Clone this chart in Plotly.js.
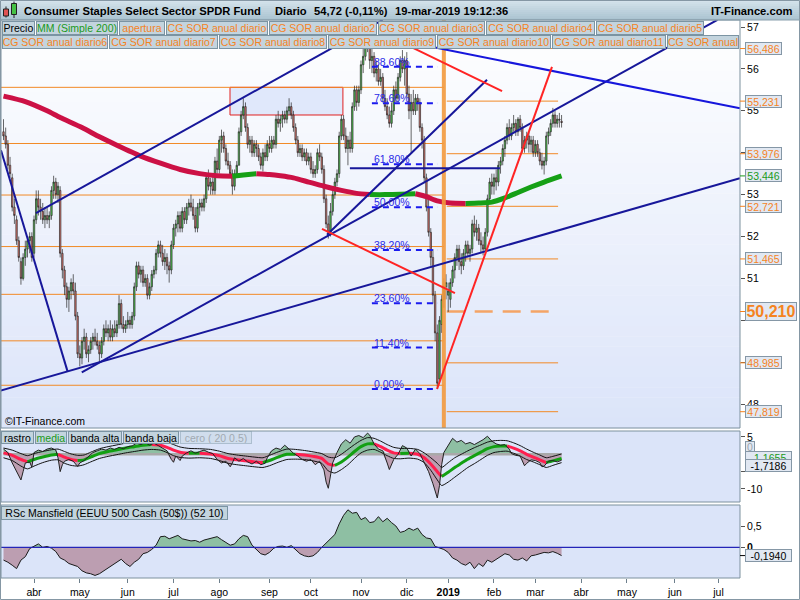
<!DOCTYPE html>
<html><head><meta charset="utf-8">
<script src="https://cdn.plot.ly/plotly-3.0.1.min.js"></script>
<style>html,body{margin:0;padding:0;background:#fff;}#chart{width:800px;height:600px;}</style>
</head><body><div id="chart"></div>
<script>
// ---------------- DATA ----------------
const holidays = ['2018-03-30','2018-05-28','2018-07-04','2018-09-03','2018-11-22','2018-12-05','2018-12-25',
  '2019-01-01','2019-01-21','2019-02-18','2019-04-19','2019-05-27','2019-07-04'];
const firstSession = '2018-03-12';
const lastAxisDay = '2019-07-31';
const monthLabels = ['abr','may','jun','jul','ago','sep','oct','nov','dic','<b>2019</b>','feb','mar','abr','may','jun','jul'];
const priceTicks = [48,49,50,51,52,53,54,55,56,57];
const priceTickText = ['48','','','51','52','53','','55','56','57'];

const priceOpen = [
54.5,54.4,54.2,53.7,53.4,52.7,52.4,51.9,51.4,51.0, 51.5,51.7,51.9,52.0,51.6,52.4,52.9,52.7,52.6,52.4,
52.5,52.4,52.5,53.1,53.3,53.0,53.1,51.6,51.2,50.8, 50.5,50.7,50.9,50.7,50.1,49.2,49.1,49.5,49.6,49.2,
49.3,49.5,49.6,49.5,49.4,49.2,49.5,49.8,49.7,49.8, 49.6,49.8,49.7,49.9,50.4,49.9,49.8,49.9,50.0,49.9,
50.1,50.8,51.3,51.1,51.2,50.9,51.0,50.6,50.8,51.1, 51.2,51.6,51.8,51.6,51.4,51.5,51.3,51.2,51.8,52.2,
52.3,52.5,52.2,52.6,52.4,52.7,52.8,52.7,52.5,52.2, 52.7,52.8,52.7,52.9,53.4,53.2,53.3,53.1,53.8,53.6,
54.3,54.4,54.1,53.8,53.7,53.5,53.2,53.5,53.7,54.5, 54.9,55.1,54.6,54.2,54.3,54.0,54.2,54.1,53.9,53.7,
54.0,53.9,54.2,54.1,54.3,54.2,54.8,54.7,54.8,54.9, 54.8,55.0,55.1,54.9,54.6,54.3,54.0,54.1,53.9,54.0,
53.8,53.9,53.6,53.5,53.6,54.0,53.9,53.6,52.9,52.3, 52.1,52.6,53.0,53.3,53.5,54.4,54.8,54.4,54.1,54.3,
54.1,55.1,55.5,55.2,55.5,56.1,56.3,56.7,56.5,56.2, 56.3,55.9,56.0,55.7,55.8,55.3,55.1,54.9,54.7,55.0,
55.5,55.3,55.8,56.2,56.0,56.2,55.4,55.0,55.2,55.0, 55.3,55.2,54.6,54.3,53.4,52.7,52.1,51.5,50.6,49.7,
48.6,49.9,50.5,50.8,50.6,50.5,50.9,51.2,51.5,51.7, 51.4,51.3,51.6,51.8,51.6,51.7,52.3,52.1,52.2,51.9,
51.8,51.7,52.1,52.9,53.3,53.2,53.4,53.3,53.7,53.8, 54.1,54.3,54.6,54.4,54.6,54.7,54.5,54.8,54.6,54.1,
54.3,54.4,54.2,54.3,54.0,54.2,54.0,53.8,53.7,53.8, 54.4,54.5,54.7,54.9,54.7,54.8,54.75];
const priceHigh = [
54.8,54.6,54.3,53.9,53.5,52.9,52.5,52.0,51.5,51.6, 51.9,52.0,52.1,52.1,52.5,53.1,53.1,52.9,52.8,52.7,
52.7,52.6,53.2,53.45,53.4,53.3,53.2,51.7,51.3,50.9, 50.8,51.0,51.1,50.9,50.2,49.4,49.6,49.8,49.7,49.4,
49.6,49.7,49.8,49.7,49.5,49.6,49.9,50.0,49.9,50.0, 49.9,50.0,50.0,50.6,50.5,50.1,50.0,50.2,50.1,50.2,
50.9,51.4,51.4,51.3,51.3,51.1,51.1,50.9,51.2,51.3, 51.7,51.9,51.9,51.8,51.7,51.6,51.4,51.9,52.3,52.4,
52.6,52.6,52.7,52.7,52.8,52.9,53.0,52.9,52.7,52.8, 52.9,52.9,53.0,53.5,53.6,53.4,53.5,53.9,54.1,54.4,
54.55,54.5,54.2,54.0,53.8,53.6,53.6,53.8,54.6,55.0, 55.3,55.2,54.7,54.4,54.4,54.3,54.3,54.2,54.0,54.1,
54.2,54.3,54.4,54.4,54.4,54.9,55.0,54.9,55.0,55.0, 55.1,55.3,55.2,55.0,54.7,54.4,54.2,54.2,54.1,54.1,
54.0,54.0,53.8,53.7,54.1,54.2,54.0,53.7,53.0,52.5, 52.8,53.1,53.4,53.6,54.5,54.9,54.9,54.6,54.4,54.5,
55.2,55.6,55.6,55.6,56.2,56.5,56.9,57.0,56.7,56.5, 56.4,56.2,56.1,56.0,55.9,55.5,55.3,55.1,55.2,55.6,
55.7,55.9,56.3,56.45,56.3,56.4,55.6,55.4,55.5,55.4, 55.4,55.3,54.7,54.4,53.5,52.9,52.2,51.7,50.7,49.9,
50.1,50.6,51.0,51.1,50.9,51.0,51.3,51.6,51.8,51.8, 51.6,51.7,51.9,51.9,51.8,52.4,52.5,52.4,52.3,52.1,
52.0,52.2,53.0,53.4,53.5,53.5,53.6,53.8,53.9,54.2, 54.4,54.7,54.8,54.7,54.9,54.8,54.85,54.9,54.7,54.4,
54.5,54.5,54.4,54.4,54.3,54.3,54.1,54.0,53.9,54.5, 54.6,54.8,55.07,55.0,54.9,54.95,54.9];
const priceLow = [
54.3,54.1,53.6,53.4,52.6,52.3,51.8,51.4,50.85,50.95, 51.3,51.5,51.6,51.4,51.5,52.3,52.5,52.4,52.3,52.2,
52.3,52.2,52.4,52.9,52.9,52.8,51.5,51.0,50.6,50.3, 50.2,50.5,50.6,50.0,49.1,48.9,48.95,49.3,49.1,49.0,
49.2,49.3,49.4,49.3,49.0,49.1,49.4,49.6,49.5,49.5, 49.5,49.6,49.6,49.8,49.8,49.7,49.7,49.8,49.8,49.8,
50.0,50.7,51.0,50.9,50.8,50.8,50.5,50.5,50.7,51.0, 51.1,51.5,51.5,51.3,51.2,51.1,50.9,51.1,51.7,52.0,
52.1,52.1,52.1,52.3,52.3,52.5,52.6,52.4,52.1,52.1, 52.5,52.6,52.6,52.8,53.1,53.0,53.0,53.0,53.5,53.5,
54.0,54.0,53.7,53.6,53.4,53.0,53.1,53.4,53.7,54.4, 54.8,54.5,54.1,54.0,53.9,53.9,53.9,53.8,53.6,53.55,
53.8,53.8,54.0,54.0,54.1,54.1,54.6,54.5,54.6,54.7, 54.7,54.9,54.8,54.5,54.2,53.9,53.9,53.8,53.8,53.7,
53.7,53.5,53.4,53.4,53.5,53.8,53.5,52.8,52.2,51.95, 52.0,52.5,52.9,53.2,53.4,54.3,54.3,54.0,53.7,54.0,
54.0,55.0,55.0,55.1,55.4,55.9,56.2,56.4,56.0,55.9, 55.8,55.7,55.6,55.6,55.2,55.0,54.8,54.6,54.6,54.9,
55.2,55.2,55.7,55.9,55.6,55.3,54.8,54.0,54.9,54.9, 55.0,54.5,54.1,53.3,52.6,52.0,51.3,50.4,49.5,48.36,
48.5,49.7,50.3,50.5,50.2,50.3,50.8,51.0,51.3,51.2, 51.1,51.2,51.4,51.5,51.4,51.6,52.0,51.9,51.8,51.6,
51.55,51.6,52.0,52.8,53.0,53.0,53.1,53.2,53.5,53.7, 53.9,54.2,54.3,54.3,54.5,54.4,54.4,54.5,54.0,54.0,
54.1,54.0,54.0,53.9,53.9,53.9,53.7,53.6,53.48,53.7, 54.2,54.4,54.6,54.6,54.6,54.6,54.6];
const priceClose = [
54.4,54.2,53.7,53.5,52.7,52.5,51.9,51.5,51.0,51.5, 51.7,51.9,52.0,51.5,52.4,52.9,52.7,52.6,52.4,52.5,
52.4,52.5,53.1,53.3,53.0,53.2,51.6,51.2,50.8,50.5, 50.7,50.9,50.7,50.1,49.2,49.1,49.5,49.6,49.2,49.3,
49.5,49.6,49.5,49.4,49.2,49.5,49.8,49.7,49.8,49.6, 49.8,49.7,49.9,50.4,49.9,49.8,49.9,50.0,49.9,50.1,
50.8,51.3,51.1,51.2,50.9,51.0,50.6,50.8,51.1,51.2, 51.6,51.8,51.6,51.4,51.5,51.3,51.2,51.8,52.2,52.3,
52.5,52.2,52.6,52.4,52.7,52.8,52.7,52.5,52.2,52.7, 52.8,52.7,52.9,53.4,53.2,53.3,53.1,53.8,53.6,54.3,
54.4,54.1,53.8,53.7,53.5,53.2,53.5,53.7,54.5,54.9, 55.1,54.6,54.2,54.3,54.0,54.2,54.1,53.9,53.7,54.0,
53.9,54.2,54.1,54.3,54.2,54.8,54.7,54.8,54.9,54.8, 55.0,55.1,54.9,54.6,54.3,54.0,54.1,53.9,54.0,53.8,
53.9,53.6,53.5,53.6,54.0,53.9,53.6,52.9,52.3,52.1, 52.6,53.0,53.3,53.5,54.4,54.8,54.4,54.1,54.3,54.1,
55.1,55.5,55.2,55.5,56.1,56.3,56.7,56.5,56.2,56.3, 55.9,56.0,55.7,55.8,55.3,55.1,54.9,54.7,55.0,55.5,
55.3,55.8,56.2,56.0,56.2,55.4,55.0,55.2,55.0,55.3, 55.2,54.6,54.3,53.4,52.7,52.1,51.5,50.6,49.7,48.5,
50.0,50.5,50.8,50.9,50.7,50.9,51.2,51.5,51.7,51.4, 51.3,51.6,51.8,51.6,51.7,52.3,52.1,52.2,51.9,51.8,
51.7,52.1,52.9,53.3,53.2,53.4,53.3,53.7,53.8,54.1, 54.3,54.6,54.4,54.6,54.7,54.5,54.8,54.6,54.1,54.3,
54.4,54.2,54.3,54.0,54.2,54.0,53.8,53.7,53.8,54.4, 54.5,54.7,54.9,54.7,54.8,54.78,54.72];

// 200-session simple moving average (session number, value)
const smaSession = [0,10,20,26,36,44,52,63,72,81,90,98,105,110,116,122,127,133,140,147,155,162,168,175,182,189,194,199,205,212,218,224,230,236,242,248,256];
const sma200 = [55.35,55.22,55.0,54.84,54.6,54.38,54.18,53.92,53.75,53.6,53.5,53.45,53.44,53.47,53.5,53.48,53.45,53.4,53.3,53.2,53.1,53.03,53.0,53.0,53.01,53.02,52.95,52.85,52.8,52.79,52.8,52.82,52.92,53.05,53.18,53.3,53.446];

// CG SOR annual levels
const levels2018 = [55.56,54.22,52.99,51.76,50.62,49.51,48.45];
const levels2019 = [56.486,55.231,53.976,52.721,51.465,48.985,47.819];
const level2019Key = 50.210;

// Fibonacci retracement
const fibLow = 48.36, fibHigh = 57.04;
const fibPct = [0,11.4,23.6,38.2,50,61.8,78.6,88.6];

// drawn trend lines [session0, price0, session1, price1]
const navyLines = [[-1.15,54.06,29.45,48.77],[-1.6,48.32,337.8,53.39],[35.9,48.76,327.5,57.17],
  [14.9,52.56,173.9,57.17],[148.4,52.04,221.8,55.74],[158.9,53.63,227.7,53.63]];
const blueLines = [[191.1,56.58,337.8,55.06]];
const redLines = [[146.1,52.18,207.1,50.65],[198.9,48.36,251.6,56.05],[181.9,56.65,228.7,55.47]];
const zoneBox = [103.9,155.7,54.90,55.56];
const yearOpenSession = 202;

// "rastro" oscillator panel
const rastroSession = [0,2,4,6,8,9,10,12,13,14, 16,18,20,22,24,25,26,27,28,30, 32,34,35,37,39,41,43,45,47,49,
 51,53,55,57,59,61,63,65,67,69, 71,73,75,77,78,79,81,82,84,86, 88,90,92,94,96,98,100,102,104,105,
 106,108,110,112,114,116,118,120,121,123, 125,127,129,131,133,135,137,139,141,143,
 145,147,148,149,150,151,153,155,157,159, 161,163,165,167,168,170,172,174,176,177,
 179,181,183,185,187,189,191,193,195,197, 199,200,201,202,204,206,208,210,212,214,
 216,218,220,222,224,226,228,230,232,233, 235,237,238,239,240,242,244,246,247,248, 250,252,254,256];
const rastro = [1.5,0.5,-2.5,-5,-7.4,-5,-2.5,-2.2,-3.7,0.5, 1.2,0.8,1.5,1.8,1.2,-1,-5,-3,-2,-1.5,
 -2,-3.5,-2.5,-1.8,-0.5,0.5,1.0,1.5,1.2,1.8, 1.4,2.0,1.6,2.2,2.4,3.2,2.8,3.4,2.6,3.2,
 2.5,1.8,1.0,-1.5,-2.3,-0.5,-1.8,-0.5,0.4,1.0, 0.3,0.8,1.2,0.6,0.2,-1.5,-2.5,-2.0,-3.6,-2.5,
 -1.0,-2.0,-1.2,-2.2,-2.8,-2.0,-3.0,-2.6,-1.0,1.0, 1.8,1.4,2.6,1.5,0.3,-0.5,-1.5,-2.0,-1.5,-3.0,
 -2.0,-4.5,-8.0,-9.8,-6,-2.5,0.5,3.0,4.2,3.2, 5.0,5.4,4.8,6.1,5.5,3.0,1.5,1.0,-2.5,-4.4,
 -1.5,0.0,2.5,1.8,-0.5,1.5,0.2,-2.5,-5,-8.5, -12.6,-9,-3,0.5,2.5,4.6,3.5,4.0,3.0,3.4,
 2.8,3.4,4.2,5.2,3.8,3.0,2.6,2.8,1.5,0.2, -0.3,-0.5,-2.0,-3.3,-2.6,-1.6,-1.8,-2.4,-3.6,-3.4, -2.0,-1.8,-2.2,-1.72];
const mediaSession = [0,4,8,11,14,18,22,25,28,31, 34,37,40,44,48,52,56,60,64,68, 72,75,78,81,85,90,95,99,103,107,
 111,115,119,122,126,130,134,138,142,146, 149,152,155,158,161,164,167,170,173,176,
 179,182,186,190,193,196,199,201,204,207, 210,213,216,219,222,225,228,231,234,237, 240,243,246,249,252,256];
const media = [0.4,-0.3,-1.5,-2.2,-1.5,-0.8,-0.2,0.0,-0.8,-1.5, -1.8,-1.6,-0.8,0.2,0.8,1.3,1.8,2.2,2.6,2.8,
 2.6,2.0,1.2,0.6,0.3,0.3,0.1,-0.4,-1.2,-1.6, -1.9,-2.2,-2.4,-1.8,-0.8,0.0,0.0,-0.2,-0.6,-1.2,
 -2.8,-3.2,-2.2,-0.8,0.8,2.2,3.0,3.0,2.2,1.2, 0.4,0.2,0.3,0.0,-1.0,-2.8,-5.0,-6.4,-5.2,-3.8,
 -2.6,-1.4,-0.4,0.6,1.6,2.2,2.4,2.4,1.8,1.0, 0.0,-0.8,-1.6,-2.4,-1.9,-1.17];
const bandHigh = [1.8,1.2,0.2,-0.4,0.2,0.8,1.3,1.5,0.8,0.1, -0.3,-0.2,0.6,1.6,2.2,2.7,3.2,3.6,4.0,4.2,
 4.0,3.5,2.8,2.1,1.7,1.6,1.4,0.9,0.2,-0.2, -0.5,-0.8,-1.0,-0.3,0.7,1.5,1.4,1.1,0.7,0.2,
 -0.8,-1.0,0.0,1.4,2.8,4.0,4.8,4.6,3.8,2.8, 2.0,1.7,1.7,1.4,0.4,-1.0,-2.6,-3.8,-2.4,-1.0,
 0.0,1.0,1.9,2.7,3.5,3.9,4.0,3.9,3.3,2.5, 1.5,0.6,-0.2,-1.0,-0.6,0.1];
const bandLow = [-1.0,-1.8,-3.4,-4.2,-3.4,-2.4,-1.7,-1.6,-2.6,-3.2, -3.4,-3.0,-2.2,-1.2,-0.6,-0.1,0.4,0.8,1.2,1.4,
 1.2,0.5,-0.4,-0.9,-1.1,-1.0,-1.2,-1.8,-2.6,-3.0, -3.3,-3.6,-3.8,-3.3,-2.3,-1.5,-1.4,-1.5,-1.9,-2.6,
 -4.8,-5.4,-4.4,-3.0,-1.2,0.4,1.2,1.4,0.6,-0.4, -1.2,-1.3,-1.1,-1.4,-2.4,-4.6,-7.4,-9.0,-8.0,-6.6,
 -5.2,-3.8,-2.7,-1.5,-0.3,0.5,0.8,0.9,0.3,-0.5, -1.5,-2.2,-3.0,-3.8,-3.2,-2.4];
const mediaLast = -1.1655, rastroLast = -1.7186;

// RSc Mansfield panel
const mansSession = [0,2,4,6,8,10,12,14,16,18, 20,22,24,26,28,30,32,34,36,38, 40,42,44,46,48,50,52,54,56,58,
 60,62,64,66,68,70,72,74,76,78, 80,82,84,86,88,90,92,94,96,98, 100,102,104,106,108,110,112,114,116,118,
 120,122,124,126,128,130,132,134,136,138, 140,142,144,146,147,148,150,152,154,156,
 158,160,162,164,166,168,170,172,174,176, 178,180,182,184,186,188,190,192,194,196,
 198,200,202,204,206,208,210,212,214,216, 218,220,222,224,226,228,230,232,234,236, 238,240,242,244,246,248,250,252,254,256];
const mansfield = [-0.3,-0.35,-0.42,-0.5,-0.3,-0.22,-0.03,0.03,0.08,0.0, 0.02,-0.02,-0.1,-0.25,-0.3,-0.38,-0.42,-0.45,-0.55,-0.6,
 -0.62,-0.66,-0.62,-0.55,-0.5,-0.42,-0.35,-0.28,-0.38,-0.45, -0.35,-0.28,-0.15,-0.12,-0.05,0.05,0.25,0.26,0.2,0.24,
 0.28,0.2,0.18,0.15,0.16,0.12,0.17,0.2,0.23,0.25, 0.18,0.12,0.05,0.08,0.2,0.28,0.25,0.05,-0.05,-0.15,
 -0.18,-0.12,-0.02,0.02,0.03,0.0,0.04,-0.05,-0.15,-0.2, -0.22,-0.2,-0.12,0.0,0.05,0.1,0.18,0.3,0.55,0.75,
 0.88,0.8,0.82,0.65,0.7,0.58,0.6,0.72,0.6,0.68, 0.58,0.5,0.35,0.38,0.45,0.4,0.45,0.3,0.22,0.2,
 0.02,-0.02,-0.05,-0.12,-0.25,-0.3,-0.38,-0.42,-0.35,-0.5, -0.38,-0.45,-0.3,-0.35,-0.28,-0.2,-0.15,-0.18,-0.28,-0.3,
 -0.25,-0.32,-0.2,-0.18,-0.15,-0.12,-0.13,-0.1,-0.14,-0.194];

// ---------------- BUILD ----------------
function buildSessions(){
  const out=[], hol=new Set(holidays);
  let t=Date.parse(firstSession+'T00:00:00Z'); const end=Date.parse(lastAxisDay+'T00:00:00Z');
  while(t<=end){ const d=new Date(t), wd=d.getUTCDay(), s=d.toISOString().slice(0,10);
    if(wd!==0 && wd!==6 && !hol.has(s)) out.push(s); t+=86400000; }
  return out;
}
const sessions = buildSessions();
const monthStarts = [];
for(let i=1;i<sessions.length;i++){ if(sessions[i].slice(0,7)!==sessions[i-1].slice(0,7)) monthStarts.push(i); }
const candleX = priceClose.map((_,i)=>i);
const lastSession = priceClose.length-1;
const first2019 = sessions.findIndex(s=>s>='2019-01-01');

const FONT='Liberation Sans, Arial, sans-serif';
const W=800,H=600,ML=1,MR=60,MT=20,MB=22, PW=W-ML-MR, PH=H-MT-MB;
const px2x = px => (px-ML)/PW;
const py2y = py => (H-MB-py)/PH;
const XR=[-1.147, 337.85];
const ORANGE='#f5831f', GREEN='#1a9a1a';
const comma = (v,d) => v.toFixed(d).replace('.',',');

function colorRuns(xs, ys, up, down, width, yaxis){
  const runs=[]; let cur=null;
  for(let i=0;i<xs.length-1;i++){
    const c = ys[i+1]>=ys[i] ? up : down;
    if(!cur || cur.c!==c){ cur={c, x:[xs[i]], y:[ys[i]]}; runs.push(cur); }
    cur.x.push(xs[i+1]); cur.y.push(ys[i+1]);
  }
  return runs.map(r=>({type:'scatter',mode:'lines',x:r.x,y:r.y,yaxis,xaxis:'x',
    line:{color:r.c,width,shape:'spline',smoothing:0.6},hoverinfo:'skip',showlegend:false}));
}
function fills(xs, ys, yaxis, posColor, negColor){
  return [
    {type:'scatter',mode:'lines',x:xs,y:ys.map(v=>Math.max(v,0)),yaxis,fill:'tozeroy',fillcolor:posColor,line:{width:0},hoverinfo:'skip',showlegend:false},
    {type:'scatter',mode:'lines',x:xs,y:ys.map(v=>Math.min(v,0)),yaxis,fill:'tozeroy',fillcolor:negColor,line:{width:0},hoverinfo:'skip',showlegend:false}
  ];
}

const traces=[];
traces.push({type:'candlestick',x:candleX,open:priceOpen,high:priceHigh,low:priceLow,close:priceClose,
  xaxis:'x',yaxis:'y',whiskerwidth:0,
  increasing:{line:{color:'#262626',width:0.7},fillcolor:'#52d052'},
  decreasing:{line:{color:'#262626',width:0.7},fillcolor:'#e57a72'},
  hoverinfo:'skip',showlegend:false});
traces.push(...colorRuns(smaSession, sma200, '#16a016', '#cc1145', 5, 'y'));

// panel 2
traces.push(...fills(rastroSession, rastro, 'y2', 'rgba(128,184,148,0.85)', 'rgba(184,150,168,0.9)'));
traces.push({type:'scatter',mode:'lines',x:[0,lastSession],y:[0,0],yaxis:'y2',line:{color:'#a9a9a9',width:2.5},hoverinfo:'skip',showlegend:false});
traces.push({type:'scatter',mode:'lines',x:mediaSession,y:bandHigh,yaxis:'y2',line:{color:'#111',width:1,shape:'spline',smoothing:0.6},hoverinfo:'skip',showlegend:false});
traces.push({type:'scatter',mode:'lines',x:mediaSession,y:bandLow,yaxis:'y2',line:{color:'#111',width:1,shape:'spline',smoothing:0.6},hoverinfo:'skip',showlegend:false});
traces.push(...colorRuns(mediaSession, media, '#12a012', '#ff1f4f', 3, 'y2'));
traces.push({type:'scatter',mode:'lines',x:rastroSession,y:rastro,yaxis:'y2',line:{color:'#222',width:1},hoverinfo:'skip',showlegend:false});

// panel 3
traces.push(...fills(mansSession, mansfield, 'y3', 'rgba(128,184,148,0.85)', 'rgba(184,150,168,0.9)'));
traces.push({type:'scatter',mode:'lines',x:mansSession,y:mansfield,yaxis:'y3',line:{color:'#1a1a1a',width:1},hoverinfo:'skip',showlegend:false});

// ---------------- SHAPES ----------------
const shapes=[];
function hexLerp(a,b,t){ const pa=[1,3,5].map(i=>parseInt(a.substr(i,2),16)), pb=[1,3,5].map(i=>parseInt(b.substr(i,2),16));
  return 'rgb('+pa.map((v,i)=>Math.round(v+(pb[i]-v)*t)).join(',')+')'; }
function pxRect(x0,x1,y0,y1,fill,line,layer){ shapes.push({type:'rect',xref:'paper',yref:'paper',x0:px2x(x0),x1:px2x(x1),y0:py2y(y1),y1:py2y(y0),
  fillcolor:fill||'rgba(0,0,0,0)',line:line||{width:0},layer:layer||'below'}); }
// title bar gradient
for(let i=0;i<10;i++){ pxRect(0,800,i*2,i*2+2.05,hexLerp('#d6e4ec','#a9c2d0',(i+0.5)/10)); }
// main background gradient
const NB=40;
for(let i=0;i<NB;i++){ const a=20+408*i/NB, b=20+408*(i+1)/NB+0.3; pxRect(1,740,a,b,hexLerp('#ffffff','#dbe4f9',(i+0.5)/NB)); }
pxRect(1,740,431,502,'#dbe4f9'); pxRect(1,740,505,578,'#dbe4f9');

// zone rectangle & levels (below traces)
shapes.push({type:'rect',xref:'x',yref:'y',x0:zoneBox[0],x1:zoneBox[1],y0:zoneBox[2],y1:zoneBox[3],fillcolor:'#e0e8fb',line:{color:'#e02020',width:1},layer:'below'});
levels2018.forEach(v=>shapes.push({type:'line',xref:'x',yref:'y',x0:XR[0],x1:yearOpenSession,y0:v,y1:v,line:{color:'#f28a26',width:1},layer:'below'}));
levels2019.forEach(v=>shapes.push({type:'line',xref:'x',yref:'y',x0:first2019-0.7,x1:lastSession-1.6,y0:v,y1:v,line:{color:'#f28a26',width:1},layer:'below'}));
shapes.push({type:'line',xref:'x',yref:'y',x0:first2019-0.7,x1:lastSession-2.8,y0:level2019Key,y1:level2019Key,line:{color:'#f4a466',width:2.5,dash:'18px,10px'},layer:'below'});

// above traces
shapes.push({type:'line',xref:'x',yref:'y',x0:yearOpenSession,x1:yearOpenSession,y0:47.3,y1:57.3,line:{color:'#f39a3e',width:4},opacity:0.9,layer:'above'});
navyLines.forEach(l=>shapes.push({type:'line',xref:'x',yref:'y',x0:l[0],y0:l[1],x1:l[2],y1:l[3],line:{color:'#17179a',width:2},layer:'above'}));
blueLines.forEach(l=>shapes.push({type:'line',xref:'x',yref:'y',x0:l[0],y0:l[1],x1:l[2],y1:l[3],line:{color:'#1616dc',width:2},layer:'above'}));
redLines.forEach(l=>shapes.push({type:'line',xref:'x',yref:'y',x0:l[0],y0:l[1],x1:l[2],y1:l[3],line:{color:'#ff2424',width:2},layer:'above'}));
const fibX0=169, fibX1=199.3;
fibPct.forEach(p=>{ const v=fibLow+(fibHigh-fibLow)*p/100;
  shapes.push({type:'line',xref:'x',yref:'y',x0:fibX0,x1:fibX1,y0:v,y1:v,line:{color:'#1a1aee',width:2,dash:'6px,5px'},layer:'above'}); });
shapes.push({type:'line',xref:'paper',yref:'y3',x0:0,x1:1,y0:0,y1:0,line:{color:'#2424b8',width:1.2},layer:'above'});

// frames
const frame={color:'#7d919e',width:1};
pxRect(1,740,20,428,null,frame,'above'); pxRect(1,740,431,502,null,frame,'above'); pxRect(1,740,505,578,null,frame,'above');
pxRect(0.5,799.5,0.5,599.5,null,{color:'#8597a4',width:1},'above');
shapes.push({type:'line',xref:'paper',yref:'paper',x0:px2x(0),x1:px2x(800),y0:py2y(20),y1:py2y(20),line:{color:'#8aa0ad',width:1},layer:'above'});
// icon
shapes.push({type:'line',xref:'paper',yref:'paper',x0:px2x(6),x1:px2x(6),y0:py2y(17.5),y1:py2y(6.5),line:{color:'#222',width:1},layer:'above'});
pxRect(3.5,8.5,9,16,'#e05252',{color:'#222',width:1},'above');
shapes.push({type:'line',xref:'paper',yref:'paper',x0:px2x(14),x1:px2x(14),y0:py2y(18),y1:py2y(1.5),line:{color:'#222',width:1},layer:'above'});
pxRect(11.5,16.5,3.5,14.5,'#45c245',{color:'#222',width:1},'above');

// ---------------- ANNOTATIONS ----------------
const ann=[];
function txt(text,px,py,opts){ ann.push(Object.assign({xref:'paper',yref:'paper',x:px2x(px),y:py2y(py),xanchor:'left',yanchor:'middle',
  text,showarrow:false,font:{family:FONT,size:10.5,color:'#000'}},opts||{})); }
function box(text,px0,px1,pyTop,pyBot,color,extra){ ann.push(Object.assign({xref:'paper',yref:'paper',x:px2x(px0),y:py2y(pyTop),xanchor:'left',yanchor:'top',
  width:px1-px0-2,height:pyBot-pyTop-2,align:'center',valign:'middle',text,showarrow:false,
  font:{family:FONT,size:10.5,color},bgcolor:'#c3d4de',bordercolor:'#7b94a3',borderwidth:1,borderpad:0},extra||{})); }

const titleFont={family:FONT,size:11.2,color:'#000',weight:'bold'};
txt('Consumer Staples Select Sector SPDR Fund',22,10.5,{font:titleFont});
txt('Diario',273,10.5,{font:titleFont});
txt('54,72 (-0,11%)',312,10.5,{font:titleFont});
txt('19-mar-2019 19:12:36',393,10.5,{font:titleFont});
txt('IT-Finance.com',794,10.5,{xanchor:'right',font:titleFont});

const row1=[['Precio',2,35,'#000'],['MM (Simple 200)',36,118,GREEN],['apertura',119,165,ORANGE],['CG SOR anual diario',166,268,ORANGE],
  ['CG SOR anual diario2',269,377,ORANGE],['CG SOR anual diario3',378,485,ORANGE],['CG SOR anual diario4',486,595,ORANGE],['CG SOR anual diario5',596,704,ORANGE]];
const row2=[['CG SOR anual diario6',2,108],['CG SOR anual diario7',109,218],['CG SOR anual diario8',219,327],['CG SOR anual diario9',328,436],
  ['CG SOR anual diario10',437,551],['CG SOR anual diario11',552,666],['CG SOR anual',667,739]];
row1.forEach(r=>box(r[0],r[1],r[2],21,34.5,r[3]));
row2.forEach(r=>box(r[0],r[1],r[2],34.5,48,ORANGE));
[['rastro',1,34,'#000'],['media',35,67,GREEN],['banda alta',68,122,'#000'],['banda baja',123,179,'#000']].forEach(r=>box(r[0],r[1],r[2],431,444,r[3]));
box('cero ( 20 0.5)',180,252,431,444,'#a2aab2',{bgcolor:'rgba(195,212,222,0.45)',bordercolor:'rgba(123,148,163,0.45)'});
box('RSc Mansfield (EEUU 500 Cash (50$)) (52 10)',1,228,505.5,519.5,'#000');
txt('©IT-Finance.com',3,421);

// fib labels
fibPct.forEach(p=>{ const v=fibLow+(fibHigh-fibLow)*p/100;
  ann.push({xref:'x',yref:'y',x:fibX0,y:v,xanchor:'left',yanchor:'bottom',yshift:-3,text:comma(p,2)+'%',showarrow:false,
    font:{family:FONT,size:10.5,color:'#2a2ae6'}}); });

// right-side value labels
function rlabel(text,yref,y,color,w,h,size,bold){
  ann.push({xref:'paper',yref,x:px2x(745),y,xanchor:'left',yanchor:'middle',width:w,height:h,align:'center',valign:'middle',
    text,showarrow:false,font:{family:FONT,size:size||10.5,color,weight:bold?'bold':'normal'},
    bgcolor:'#e1e8f2',bordercolor:'#8597a6',borderwidth:1,borderpad:0});
  if(yref!=='paper') shapes.push({type:'line',xref:'paper',yref,x0:px2x(740),x1:px2x(745),y0:y,y1:y,line:{color,width:1},layer:'above'});
}
levels2019.forEach(v=>rlabel(comma(v,3),'y',v,ORANGE,35,11));
rlabel(comma(sma200[sma200.length-1],3),'y',sma200[sma200.length-1],GREEN,35,11);
rlabel(comma(level2019Key,3),'y',level2019Key,ORANGE,50,17,16,true);
rlabel('0','paper',py2y(446.5),'#9aa3ab',8,9);
rlabel(comma(mediaLast,4),'paper',py2y(457),GREEN,45,11);
rlabel(comma(rastroLast,4),'paper',py2y(465.5),'#000',45,11);
rlabel(comma(mansfield[mansfield.length-1],4),'y3',mansfield[mansfield.length-1],'#000',45,11);

// ---------------- LAYOUT ----------------
const tickFont={family:FONT,size:10.5,color:'#000'};
const layout={
  width:W,height:H,margin:{l:ML,r:MR,t:MT,b:MB,pad:0},
  paper_bgcolor:'#ffffff',plot_bgcolor:'rgba(0,0,0,0)',boxgap:0.08,
  font:{family:FONT,size:10.5,color:'#000'},showlegend:false,hovermode:false,dragmode:false,
  xaxis:{type:'linear',domain:[0,1],range:XR,anchor:'y3',showgrid:false,zeroline:false,showline:false,
    tickmode:'array',tickvals:monthStarts,ticktext:monthLabels,ticks:'outside',ticklen:4,tickcolor:'#6d7f8c',
    tickfont:tickFont,rangeslider:{visible:false},fixedrange:true},
  yaxis:{domain:[py2y(428),1],range:[47.43,57.167],side:'right',anchor:'x',showgrid:false,zeroline:false,showline:false,
    tickmode:'array',tickvals:priceTicks,ticktext:priceTickText,ticks:'outside',ticklen:4,tickcolor:'#555',tickfont:tickFont,fixedrange:true},
  yaxis2:{domain:[py2y(502),py2y(431)],range:[-13.75,6.71],side:'right',anchor:'x',showgrid:false,zeroline:false,showline:false,
    tickmode:'array',tickvals:[5,-5,-10],ticktext:['5','','-10'],ticks:'outside',ticklen:4,tickcolor:'#555',tickfont:tickFont,fixedrange:true},
  yaxis3:{domain:[0,py2y(505)],range:[-0.72,0.993],side:'right',anchor:'x',showgrid:false,zeroline:false,showline:false,
    tickmode:'array',tickvals:[0.5,0],ticktext:['0,5','<b>0</b>'],ticks:'outside',ticklen:4,tickcolor:'#555',tickfont:tickFont,fixedrange:true},
  shapes, annotations:ann
};
Plotly.newPlot('chart',traces,layout,{staticPlot:true,displayModeBar:false});
</script></body></html>
